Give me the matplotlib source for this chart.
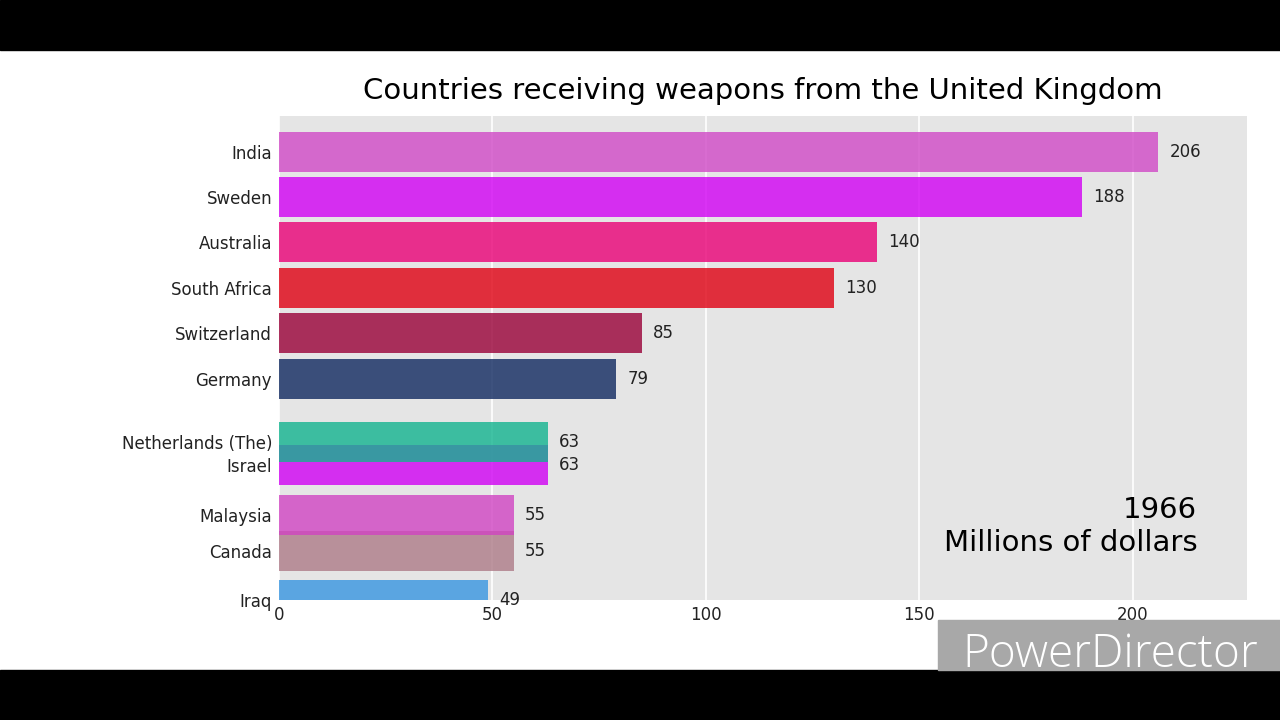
import matplotlib
matplotlib.use("Agg")
import matplotlib.pyplot as plt
from matplotlib.patches import Rectangle

# frame of the bar chart race, mid transition (ranks are interpolated)
countries = ["India", "Sweden", "Australia", "South Africa", "Switzerland", "Germany",
             "Netherlands (The)", "Israel", "Malaysia", "Canada", "Iraq"]
values = [206, 188, 140, 130, 85, 79, 63, 63, 55, 55, 49]
ranks = [0.80, 1.80, 2.81, 3.82, 4.82, 5.84, 7.24, 7.76, 8.87, 9.67, 10.76]
colors = ["#D049C6", "#D200F3", "#E90076", "#DF0012", "#990037", "#0F285F",
          "#12B48F", "#D000F3", "#D044C2", "#AD7B87", "#3795E0"]
ticks = [0, 50, 100, 150, 200]
year = "1966"
unit = "Millions of dollars"
title = "Countries receiving weapons from the United Kingdom"

fig = plt.figure(figsize=(12.8, 7.2), dpi=100)
ax = fig.add_axes([0.218, 0.1667, 0.756, 0.6722])
ax.set_facecolor("#E5E5E5")

# draw bottom ranks first so upper bars sit on top where they overlap
order = list(range(len(countries)))[::-1]
for i in order:
    ax.barh(ranks[i], values[i], height=0.89, color=colors[i], alpha=0.8, zorder=3)
    ax.annotate(str(values[i]), (values[i], ranks[i]), xytext=(8, 0),
                textcoords="offset points", ha="left", va="center",
                fontsize=12, color="#222222", annotation_clip=False, zorder=4)

ax.set_xlim(0, 226.7)
ax.set_ylim(10.76, 0)
ax.set_xticks(ticks)
ax.set_yticks(ranks)
ax.set_yticklabels(countries)
ax.tick_params(length=0, labelsize=12, labelcolor="#222222", pad=5)
ax.tick_params(axis="x", pad=4)
ax.grid(axis="x", color="white", linewidth=1.2, zorder=1)
ax.set_axisbelow(True)
for s in ax.spines.values():
    s.set_visible(False)

ax.set_title(title, fontsize=21, pad=12)
ax.text(0.949, 0.088, year + "\n" + unit, transform=ax.transAxes,
        ha="right", va="bottom", fontsize=21, linespacing=1.25, zorder=5)

# video letterbox and watermark
fig.patches.append(Rectangle((0, 0.931), 1, 0.069, transform=fig.transFigure,
                             color="black", zorder=0))
fig.patches.append(Rectangle((0, 0), 1, 0.07, transform=fig.transFigure,
                             color="black", zorder=0))
fig.patches.append(Rectangle((0.733, 0.07), 0.267, 0.069, transform=fig.transFigure,
                             color="#A8A8A8", zorder=0))
fig.text(0.983, 0.074, "PowerDirector", ha="right", va="baseline", fontsize=33,
         color="white", family="Open Sans", fontweight="light")

fig.savefig("out.png", dpi=100)
